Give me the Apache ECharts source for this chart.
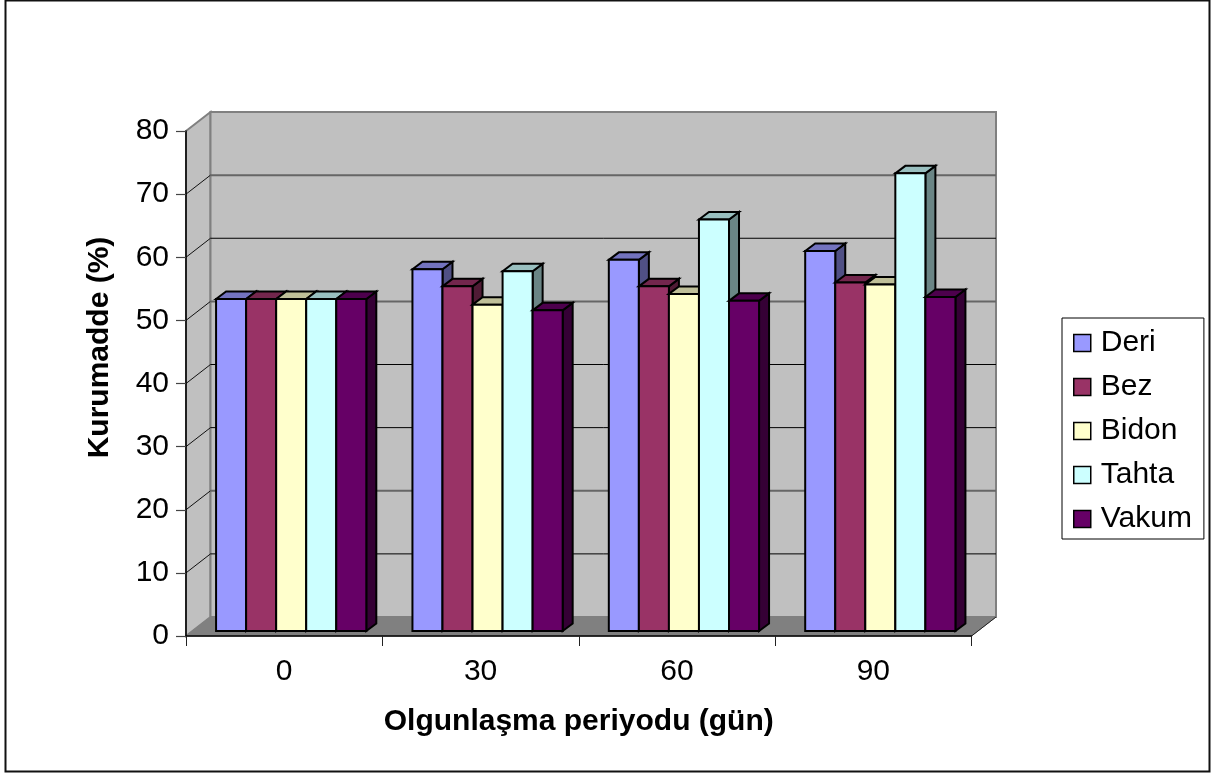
<!DOCTYPE html>
<html><head><meta charset="utf-8">
<style>html,body{margin:0;padding:0;background:#fff}#c{width:1213px;height:776px}</style>
<script src="https://cdn.jsdelivr.net/npm/echarts@6/dist/echarts.min.js"></script>
</head><body><div id="c"></div>
<script>
const categories = ['0','30','60','90'];
const seriesNames = ['Deri','Bez','Bidon','Tahta','Vakum'];
const deri  = [52.6,57.3,58.8,60.2];
const bez   = [52.6,54.6,54.6,55.2];
const bidon = [52.6,51.7,53.4,54.9];
const tahta = [52.6,57.0,65.2,72.5];
const vakum = [52.6,50.8,52.3,52.9];
const colors = ['#9999FF','#993366','#FFFFCC','#CCFFFF','#660066'];
const valueTicks = [0,10,20,30,40,50,60,70,80];
const gridHeavy = [20,50,70];
const allValues = [deri,bez,bidon,tahta,vakum];

const DX=24.5, DY=19, BAR_DX=10, BAR_DY=7.5, SHIFT_X=7, SHIFT_Y=5, BAR_FRAC=0.153;
const FONT='"Liberation Sans", Arial, sans-serif';

function shade(hex,f){const n=parseInt(hex.slice(1),16);
  const c=[(n>>16)&255,(n>>8)&255,n&255].map(v=>Math.round(v*f));
  return `rgb(${c[0]},${c[1]},${c[2]})`;}

function barSeries(name,idx){
  return {
    name,type:'custom',coordinateSystem:'cartesian2d',z:3+idx,clip:false,silent:true,
    itemStyle:{color:colors[idx],borderColor:'#000',borderWidth:1.5},
    encode:{x:0,y:1},
    data:allValues[idx].map((v,i)=>[i,v]),
    renderItem(params,api){
      const band=api.size([1,0])[0];
      const w=band*BAR_FRAC;
      const base=api.coord([api.value(0),0]);
      const top=api.coord([api.value(0),api.value(1)]);
      const x0=base[0]+SHIFT_X+(idx-2.5)*w, x1=x0+w;
      const y0=base[1]-SHIFT_Y, y1=top[1]-SHIFT_Y;
      const st={stroke:'#000',lineWidth:2,lineJoin:'miter'};
      return {type:'group',children:[
        {type:'polygon',shape:{points:[[x1,y0],[x1+BAR_DX,y0-BAR_DY],[x1+BAR_DX,y1-BAR_DY],[x1,y1]]},style:{...st,fill:shade(colors[idx],0.52)}},
        {type:'polygon',shape:{points:[[x0,y1],[x0+BAR_DX,y1-BAR_DY],[x1+BAR_DX,y1-BAR_DY],[x1,y1]]},style:{...st,fill:shade(colors[idx],0.75)}},
        {type:'rect',shape:{x:x0,y:y1,width:w,height:y0-y1},style:{...st,fill:colors[idx]}}
      ]};
    }
  };
}

const wallSeries={
  type:'custom',coordinateSystem:'cartesian2d',z:1,clip:false,silent:true,
  data:[[0,0]],encode:{x:0,y:1},
  renderItem(params,api){
    const g=params.coordSys;
    const xl=g.x,xr=g.x+g.width,yt=g.y,yb=g.y+g.height;
    const wallStroke={stroke:'#808080',lineWidth:2};
    const kids=[
      {type:'polygon',shape:{points:[[xl,yt],[xl+DX,yt-DY],[xl+DX,yb-DY],[xl,yb]]},style:{fill:'#C0C0C0',...wallStroke}},
      {type:'polygon',shape:{points:[[xl+DX,yt-DY],[xr+DX,yt-DY],[xr+DX,yb-DY],[xl+DX,yb-DY]]},style:{fill:'#C0C0C0',...wallStroke}},
      {type:'polygon',shape:{points:[[xl,yb],[xl+DX,yb-DY],[xr+DX,yb-DY],[xr,yb]]},style:{fill:'#808080',stroke:'#808080',lineWidth:1}},
      {type:'line',shape:{x1:xr,y1:yb,x2:xr+DX,y2:yb-DY},style:{stroke:'#222',lineWidth:1}}
    ];
    valueTicks.filter(v=>v>0&&v<80).forEach(v=>{
      const y=api.coord([0,v])[1];
      const heavy=gridHeavy.includes(v);
      kids.push({type:'line',shape:{x1:xl,y1:y,x2:xl+DX,y2:y-DY},style:{stroke:'#111',lineWidth:1}});
      kids.push({type:'line',shape:{x1:xl+DX,y1:y-DY,x2:xr+DX,y2:y-DY},style:{stroke:heavy?'#666':'#000',lineWidth:heavy?2:1}});
    });
    return {type:'group',children:kids};
  }
};

const chart=echarts.init(document.getElementById('c'),null,{renderer:'canvas'});
chart.setOption({
  animation:false,
  backgroundColor:'#fff',
  graphic:[{type:'rect',z:-1,shape:{x:5.5,y:0.5,width:1204,height:771},style:{fill:'#fff',stroke:'#111',lineWidth:2}}],
  grid:{left:186,top:131,width:785.5,height:505,containLabel:false},
  legend:{
    data:seriesNames,orient:'vertical',left:1062,top:318,
    padding:[10,12,5,11],itemGap:14,itemWidth:17,itemHeight:17,icon:'rect',
    borderColor:'#000',borderWidth:1,backgroundColor:'#fff',
    itemStyle:{borderColor:'#000',borderWidth:1.5},
    textStyle:{fontFamily:FONT,fontSize:30,color:'#000',padding:[4,0,0,5]},
    selectedMode:false
  },
  xAxis:{
    type:'category',data:categories,boundaryGap:true,z:6,
    axisLine:{lineStyle:{color:'#000',width:1.5}},
    axisTick:{show:true,alignWithLabel:false,length:10,lineStyle:{color:'#222',width:1}},
    axisLabel:{fontFamily:FONT,fontSize:30,color:'#000',margin:21},
    name:'Olgunlaşma periyodu (gün)',nameLocation:'middle',nameGap:71,
    nameTextStyle:{fontFamily:FONT,fontSize:30,fontWeight:'bold',color:'#000'}
  },
  yAxis:{
    type:'value',min:0,max:80,interval:10,z:6,
    axisLine:{show:true,lineStyle:{color:'#000',width:1.5}},
    axisTick:{show:true,length:10,lineStyle:{color:'#444',width:1.2}},
    splitLine:{show:false},
    axisLabel:{fontFamily:FONT,fontSize:30,color:'#000',margin:17},
    name:'Kurumadde (%)',nameLocation:'middle',nameGap:71,nameRotate:90,
    nameTextStyle:{fontFamily:FONT,fontSize:30,fontWeight:'bold',color:'#000',padding:[0,0,0,72]}
  },
  series:[wallSeries,...seriesNames.map(barSeries)]
});
</script></body></html>
